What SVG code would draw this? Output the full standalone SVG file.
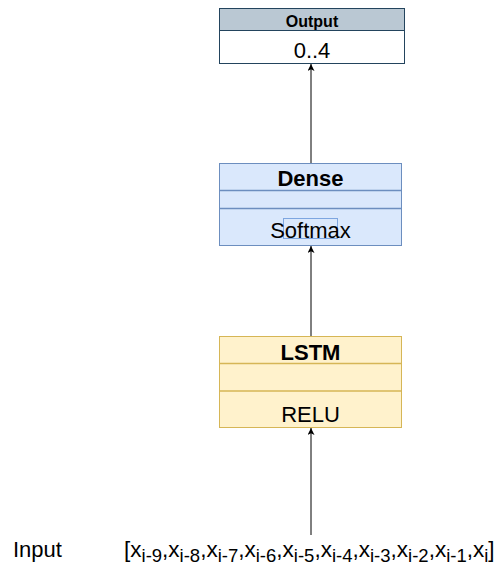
<svg xmlns="http://www.w3.org/2000/svg" width="499" height="572" viewBox="0 0 499 572">
<style>
text{font-family:"Liberation Sans",Arial,sans-serif;fill:#000}
.b{font-weight:bold}
.c{text-anchor:middle}
.e{fill:none;stroke:#000;stroke-width:1}
.s{font-size:18.5px}
</style>
<defs>
<marker id="a" markerUnits="userSpaceOnUse" markerWidth="10" markerHeight="10" refX="7" refY="3.5" orient="auto" viewBox="0 0 10 10">
<path d="M0,0 L7,3.5 L0,7 L1.8,3.5 z" fill="#000"/>
</marker>
</defs>
<rect width="499" height="572" fill="#fff"/>
<g id="connectors">
<line class="e" x1="311" y1="163" x2="311" y2="64" marker-end="url(#a)"/>
<line class="e" x1="311" y1="336" x2="311" y2="246" marker-end="url(#a)"/>
<line class="e" x1="311" y1="535" x2="311" y2="428" marker-end="url(#a)"/>
</g>
<g id="output">
<rect x="219.5" y="8.5" width="185" height="55" fill="#fff" stroke="#23445d"/>
<rect x="219.5" y="8.5" width="185" height="22" fill="#bac8d3" stroke="#23445d"/>
<text class="b c" x="312" y="27" font-size="16">Output</text>
<text class="c" x="312" y="58" font-size="22">0..4</text>
</g>
<g id="dense">
<rect x="219.5" y="163.5" width="182" height="82" fill="#dae8fc" stroke="#6c8ebf"/>
<line x1="219.5" y1="190.5" x2="401.5" y2="190.5" stroke="#6c8ebf" stroke-width="1.5"/>
<line x1="219.5" y1="208.5" x2="401.5" y2="208.5" stroke="#6c8ebf" stroke-width="1.5"/>
<text class="b c" x="310.5" y="186" font-size="22">Dense</text>
<rect x="283.5" y="218.5" width="54" height="20" fill="none" stroke="#7ea6e0" stroke-width="1"/>
<text class="c" x="310.5" y="237.5" font-size="22">Softmax</text>
</g>
<g id="lstm">
<rect x="219.5" y="336.5" width="182" height="91" fill="#fff2cc" stroke="#d6b656"/>
<line x1="219.5" y1="363.5" x2="401.5" y2="363.5" stroke="#d6b656" stroke-width="1.5"/>
<line x1="219.5" y1="391" x2="401.5" y2="391" stroke="#d6b656" stroke-width="1.5"/>
<text class="b c" x="310.5" y="359.5" font-size="22">LSTM</text>
<text class="c" x="310.5" y="422" font-size="22">RELU</text>
</g>
<g id="input">
<text x="13" y="557" font-size="22">Input</text>
<text x="124" y="557" font-size="22.5">[x<tspan class="s" dy="5">i-9</tspan><tspan dy="-5">,x</tspan><tspan class="s" dy="5">i-8</tspan><tspan dy="-5">,x</tspan><tspan class="s" dy="5">i-7</tspan><tspan dy="-5">,x</tspan><tspan class="s" dy="5">i-6</tspan><tspan dy="-5">,x</tspan><tspan class="s" dy="5">i-5</tspan><tspan dy="-5">,x</tspan><tspan class="s" dy="5">i-4</tspan><tspan dy="-5">,x</tspan><tspan class="s" dy="5">i-3</tspan><tspan dy="-5">,x</tspan><tspan class="s" dy="5">i-2</tspan><tspan dy="-5">,x</tspan><tspan class="s" dy="5">i-1</tspan><tspan dy="-5">,x</tspan><tspan class="s" dy="5">i</tspan><tspan dy="-5">]</tspan></text>
</g>
</svg>
